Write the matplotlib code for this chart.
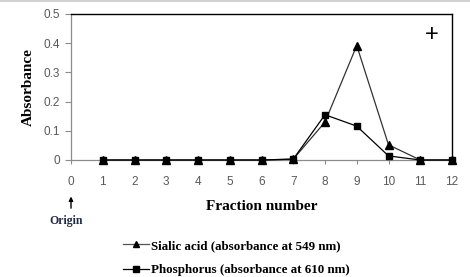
import matplotlib.pyplot as plt
from matplotlib.lines import Line2D

fraccion = [1, 2, 3, 4, 5, 6, 7, 8, 9, 10, 11, 12]
sialico = [0, 0, 0, 0, 0, 0, 0.003, 0.13, 0.392, 0.052, 0, 0]
fosforo = [0, 0, 0, 0, 0, 0, 0.003, 0.155, 0.116, 0.014, 0, 0]
ticks_x = list(range(0, 13))
ticks_y = [0, 0.1, 0.2, 0.3, 0.4, 0.5]
etiquetas_y = ['0', '0.1', '0.2', '0.3', '0.4', '0.5']

GRIS = '#595959'
SERIF = 'Liberation Serif'
SANS = 'Liberation Sans'

fig = plt.figure(figsize=(4.7, 2.77), dpi=100)
ax = fig.add_axes([71 / 470, 1 - 160 / 277, 381 / 470, 146 / 277])

ax.plot(fraccion, sialico, color='#333333', lw=0.9, marker='^', ms=5.5,
        mfc='black', mec='black', clip_on=False, zorder=3)
ax.plot(fraccion, fosforo, color='black', lw=0.9, marker='s', ms=5,
        mfc='black', mec='black', clip_on=False, zorder=4)

ax.set_xlim(0, 12)
ax.set_ylim(0, 0.5)
ax.set_xticks(ticks_x)
ax.set_yticks(ticks_y)
ax.set_yticklabels(etiquetas_y)

for lado in ['left', 'bottom']:
    ax.spines[lado].set_color('#8c8c8c')
    ax.spines[lado].set_linewidth(0.9)
for lado in ['top', 'right']:
    ax.spines[lado].set_color('black')
    ax.spines[lado].set_linewidth(1.0)

ax.tick_params(axis='x', direction='out', length=3, width=0.8, color='#8c8c8c',
               pad=8.5, labelsize=8.5, labelcolor=GRIS)
ax.tick_params(axis='y', direction='out', length=4, width=0.8, color='#8c8c8c',
               pad=4, labelsize=8.5, labelcolor=GRIS)
for t in ax.get_xticklabels() + ax.get_yticklabels():
    t.set_fontfamily(SANS)

ax.set_xlabel('Fraction number', fontsize=11, fontweight='bold', family=SERIF, labelpad=9)
ax.set_ylabel('Absorbance', fontsize=11, fontweight='bold', family=SERIF, labelpad=6)

# signo + en la esquina
ax.text(11.37, 0.428, '+', fontsize=17, ha='center', va='center', family=SANS)

# flecha de origen
ax.annotate('', xy=(0, -0.125), xytext=(0, -0.165),
            arrowprops=dict(arrowstyle='-|>', color='black', lw=1.0, mutation_scale=6,
                            shrinkA=0, shrinkB=0),
            annotation_clip=False)
ax.text(-0.14, -0.21, 'Origin', fontsize=8.5, fontweight='bold', family=SERIF,
        color='#1f2a44', ha='center', va='center', clip_on=False)

# leyenda
h1 = Line2D([], [], color='#555555', lw=0.9, marker='^', ms=5, mfc='black', mec='black')
h2 = Line2D([], [], color='black', lw=0.9, marker='s', ms=4.5, mfc='black', mec='black')
fig.legend([h1, h2], ['Sialic acid (absorbance at 549 nm)',
                      'Phosphorus (absorbance at 610 nm)'],
           loc='upper left', bbox_to_anchor=(111 / 470, 1 - 228 / 277),
           frameon=False, handlelength=2.0, handletextpad=0.2, labelspacing=0.95,
           prop={'family': SERIF, 'weight': 'bold', 'size': 9.4})

fig.add_artist(Line2D([0, 1], [0.998, 0.998], transform=fig.transFigure,
                      color='#c8c8c8', lw=1.2))

fig.savefig('out.png', dpi=100)
